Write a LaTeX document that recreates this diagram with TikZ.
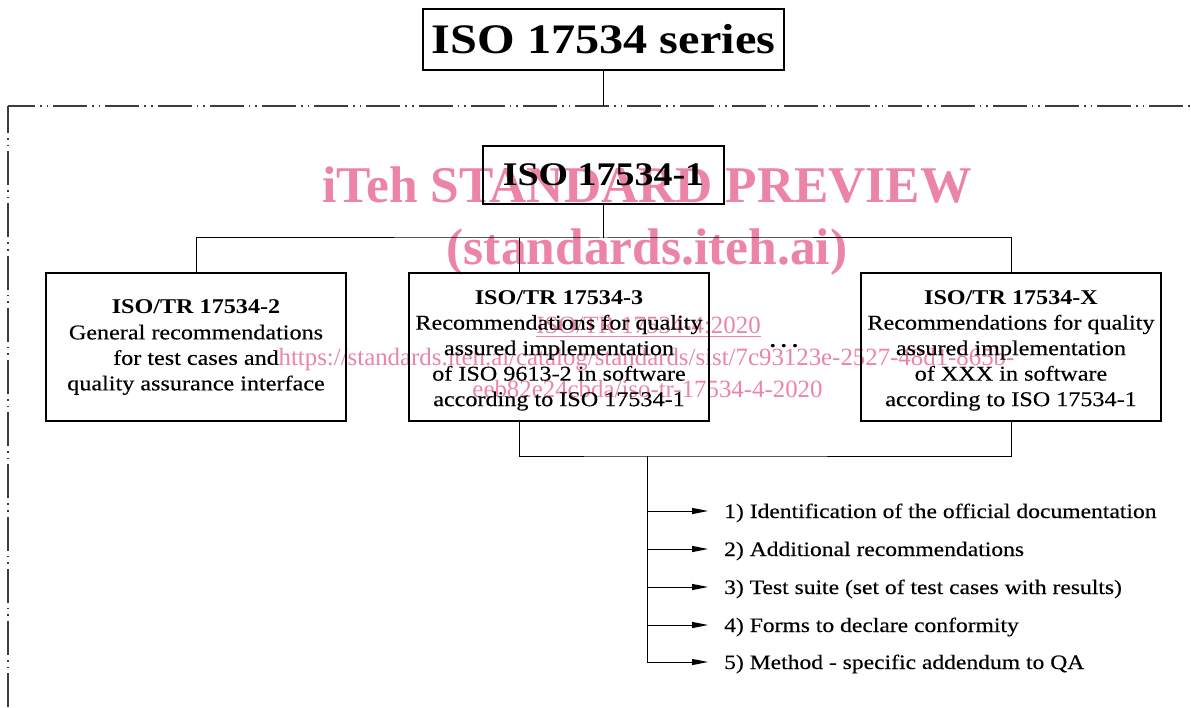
\documentclass[tikz,border=0pt]{standalone}
\usepackage{fontspec}
\setmainfont{Liberation Serif}[FakeStretch=1.15, UprightFeatures={FakeBold=0.3}]
\newfontfamily\wmfont{Liberation Serif}
\usetikzlibrary{arrows.meta}
\definecolor{wmpink}{RGB}{236,132,166}
\definecolor{dashgray}{RGB}{60,60,60}
\newcommand{\bxtext}[2]{\raisebox{#1}[\height][\depth]{\begin{tabular}{@{}c@{}}#2\end{tabular}}}
\tikzset{
  box/.style={draw, line width=1.3pt, minimum width=300pt, minimum height=148pt, inner sep=0pt, font=\fontsize{21}{25.5}\selectfont},
  topbox/.style={draw, line width=1.3pt, inner sep=0pt},
  conn/.style={line width=1pt},
  arr/.style={line width=1pt, -{Triangle[length=16pt,width=6pt]}},
  item/.style={anchor=west, inner xsep=16pt, inner ysep=0pt, text height=14pt, text depth=0pt, font=\fontsize{20.5}{24}\selectfont},
  dashdot/.style={line width=1.6pt, draw=dashgray, dash pattern=on 34pt off 5pt on 1.6pt off 5pt on 1.6pt off 5pt, dash phase=7pt},
  wmbig/.style={text=wmpink, anchor=base, inner sep=0pt, font=\wmfont\bfseries\fontsize{51.5}{60}\selectfont},
  wmsmall/.style={text=wmpink, anchor=base, inner sep=0pt, font=\wmfont\fontsize{24.85}{28}\selectfont},
}
\begin{document}
\begin{tikzpicture}[x=1pt,y=-1pt]
\useasboundingbox (0,0) rectangle (1191,708);
% watermark
\node[wmbig] (wm1) at (647,203) {iTeh STANDARD PREVIEW};
\node[wmbig] (wm2) at (647,265) {(standards.iteh.ai)};
\node[wmsmall] (wm3) at (648.5,334) {\underline{ISO/TR 17534-4:2020}};
\node[wmsmall] (wm4) at (646.5,366) {https://standards.iteh.ai/catalog/standards/sist/7c93123e-2527-48d1-865b-};
\node[wmsmall] (wm5) at (647.5,397) {eeb82e24cbda/iso-tr-17534-4-2020};
% frame
\coordinate (corner) at (8,106);
\coordinate (hright) at (1191,106);
\coordinate (vbottom) at (8,708);
\draw[dashdot] (corner) -- (hright);
\draw[dashdot] (corner) -- (vbottom);
% nodes
\node[topbox, minimum width=361pt, minimum height=61pt, font=\bfseries\fontsize{42}{48}\selectfont] (series) at (603.5,39.5) {ISO 17534 series};
\node[topbox, minimum width=241pt, minimum height=58pt, font=\bfseries\fontsize{33}{40}\selectfont] (iso1) at (603.5,175) {ISO 17534-1};
\node[box] (b2) at (196,347) {\bxtext{0pt}{\textbf{ISO/TR 17534-2}\\General recommendations\\for test cases and\\quality assurance interface}};
\node[box] (b3) at (559,347) {\bxtext{-3pt}{\textbf{ISO/TR 17534-3}\\Recommendations for quality\\assured implementation\\of ISO 9613-2 in software\\according to ISO 17534-1}};
\node[box] (bX) at (1011,347) {\bxtext{-3pt}{\textbf{ISO/TR 17534-X}\\Recommendations for quality\\assured implementation\\of XXX in software\\according to ISO 17534-1}};
\node[anchor=base, inner sep=0pt, font=\bfseries\fontsize{21}{25}\selectfont] (dots) at (784,348) {.\kern5pt.\kern5pt.};
\node[item] (it1) at (708,511) {1) Identification of the official documentation};
\node[item] (it2) at (708,549) {2) Additional recommendations};
\node[item] (it3) at (708,587) {3) Test suite (set of test cases with results)};
\node[item] (it4) at (708,625) {4) Forms to declare conformity};
\node[item] (it5) at (708,662) {5) Method - specific addendum to QA};
% connectors
\draw[conn] (series.south) -- (series.south |- corner);
\coordinate (hub) at (603.5,238);
\draw[conn] (iso1.south) -- (hub);
\draw[conn] (b2.north) |- (hub) -| (bX.north);
\coordinate (b3n) at (519,273);
\draw[conn] (b3n) -- (b3n |- hub);
\coordinate (b3s) at (519,421);
\coordinate (bus) at (647,456);
\draw[conn] (b3s) |- (bus) -| (bX.south);
\draw[conn] (bus) -- (bus |- it5.west);
\foreach \i in {1,...,5}{\draw[arr] (bus |- it\i.west) -- (it\i.west);}
\end{tikzpicture}
\end{document}
